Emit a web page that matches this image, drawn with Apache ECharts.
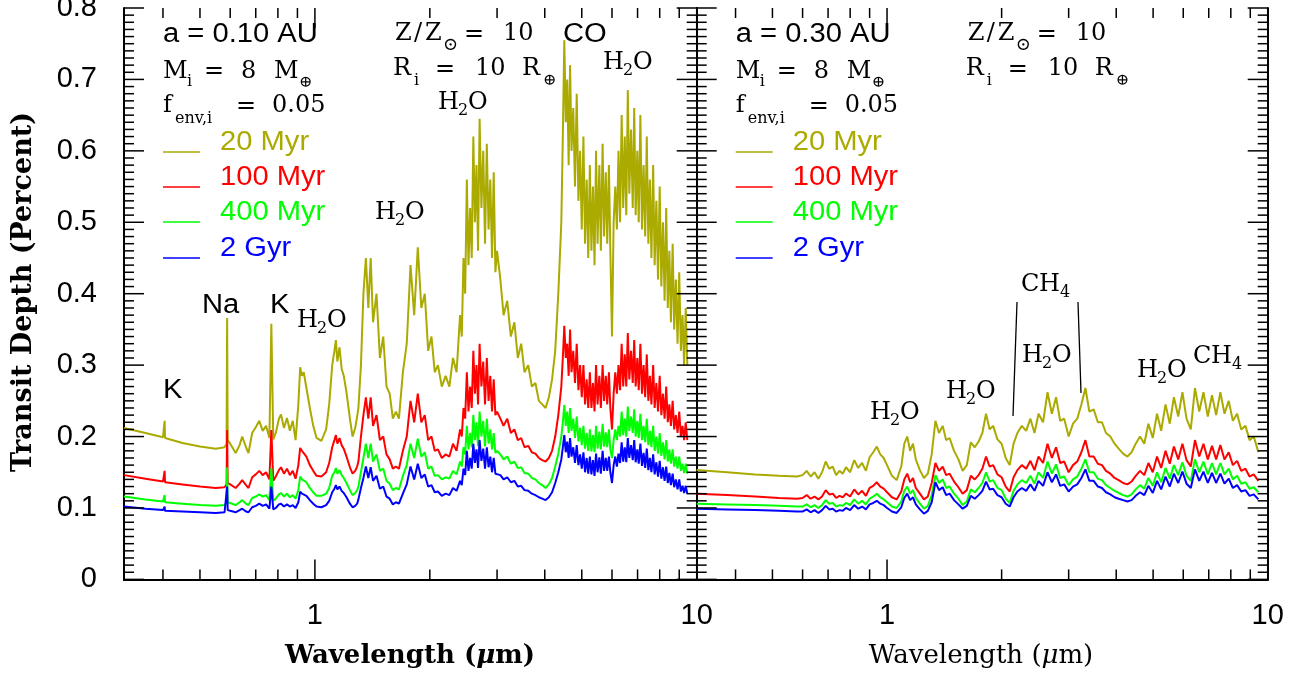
<!DOCTYPE html>
<html>
<head>
<meta charset="utf-8">
<script src="https://cdn.jsdelivr.net/npm/echarts@6.0.0/dist/echarts.min.js"></script>
<style>
html,body{margin:0;padding:0;background:#fff;}
#chart{width:1302px;height:677px;}
</style>
</head>
<body>
<div id="chart"></div>
<script>
// ================= DATA =================
// Left panel: a = 0.10 AU
const waveLeft = [
0.3162,0.36,0.40,0.403,0.404,0.405,0.45,0.50,0.55,0.58,0.587,0.589,0.591,
0.60,0.62,0.635,0.645,0.66,0.67,0.685,0.70,0.715,0.73,0.745,0.76,0.769,0.778,0.79,0.805,0.815,0.83,0.845,0.86,0.875,0.89,0.905,0.915,0.925,0.935,0.95,0.97,0.99,1.01,1.04,1.07,1.09,1.11,1.125,1.135,1.145,1.16,1.175,1.19,1.21,1.235,1.255,1.275,1.29,
1.30,1.32,1.34,1.36,1.38,1.40,1.42,1.45,1.48,1.51,
1.54,1.57,1.60,1.63,1.66,1.70,1.74,1.78,1.82,1.86,
1.90,1.94,1.98,2.02,2.06,2.10,2.15,2.20,2.25,2.30,
2.35,2.40,2.425,2.45,2.475,2.50,2.525,2.55,2.575,2.60,
2.625,2.65,2.675,2.70,2.73,2.76,2.79,2.82,2.85,2.88,
2.91,2.94,2.97,3.00,3.06,3.12,3.19,3.26,3.33,3.40,
3.47,3.54,3.62,3.70,3.78,3.86,3.94,4.02,4.10,4.18,
4.26,4.34,4.42,4.46,4.50,4.54,4.58,4.62,4.66,4.70,
4.75,4.80,4.85,4.90,4.95,5.00,5.05,5.10,5.15,5.20,
5.25,5.30,5.35,5.40,5.45,5.50,5.56,5.61,5.67,5.72,
5.78,5.83,5.89,5.94,6.00,6.06,6.12,6.18,6.24,6.30,
6.36,6.42,6.48,6.54,6.60,6.66,6.73,6.80,6.86,6.92,
6.99,7.05,7.12,7.19,7.26,7.33,7.40,7.47,7.54,7.61,
7.69,7.76,7.84,7.92,8.00,8.08,8.16,8.24,8.32,8.40,
8.48,8.56,8.65,8.73,8.82,8.91,9.00,9.09,9.18,9.27,
9.36,9.45];

const depth20MyrLeft = [
0.212,0.205,0.199,0.198,0.222,0.198,0.191,0.186,0.183,0.185,0.19,0.366,0.195,
0.19,0.177,0.188,0.2,0.185,0.177,0.205,0.213,0.222,0.208,0.215,0.198,0.358,0.196,0.205,0.225,0.231,0.212,0.226,0.208,0.222,0.195,0.245,0.297,0.285,0.29,0.268,0.24,0.215,0.198,0.194,0.21,0.245,0.3,0.32,0.335,0.305,0.325,0.295,0.285,0.262,0.225,0.2,0.212,0.228,
0.24,0.30,0.40,0.45,0.38,0.45,0.36,0.40,0.31,0.34,
0.27,0.26,0.225,0.235,0.225,0.29,0.33,0.44,0.37,0.465,
0.38,0.40,0.32,0.34,0.29,0.30,0.27,0.285,0.27,0.31,
0.29,0.37,0.34,0.45,0.40,0.56,0.44,0.52,0.45,0.62,
0.50,0.58,0.46,0.645,0.52,0.60,0.47,0.61,0.49,0.56,
0.45,0.57,0.43,0.46,0.42,0.37,0.39,0.34,0.36,0.31,
0.33,0.29,0.30,0.27,0.275,0.25,0.245,0.24,0.255,0.28,
0.32,0.40,0.50,0.62,0.755,0.64,0.70,0.58,0.72,0.60,
0.66,0.55,0.68,0.53,0.60,0.49,0.62,0.47,0.56,0.45,
0.58,0.46,0.55,0.44,0.60,0.47,0.58,0.46,0.61,0.48,
0.57,0.47,0.58,0.46,0.34,0.50,0.55,0.49,0.60,0.50,
0.65,0.52,0.62,0.51,0.685,0.54,0.63,0.52,0.66,0.51,
0.60,0.50,0.65,0.49,0.58,0.48,0.62,0.47,0.56,0.45,
0.58,0.44,0.53,0.42,0.55,0.41,0.50,0.39,0.52,0.38,
0.46,0.36,0.47,0.35,0.42,0.33,0.43,0.32,0.37,0.30,
0.38,0.30];

const depth100MyrLeft = [
0.146,0.141,0.137,0.136,0.152,0.136,0.133,0.130,0.128,0.129,0.133,0.209,0.135,
0.133,0.128,0.134,0.139,0.132,0.128,0.143,0.147,0.152,0.146,0.150,0.140,0.209,0.138,0.144,0.153,0.157,0.148,0.155,0.146,0.152,0.141,0.16,0.184,0.18,0.178,0.172,0.16,0.152,0.145,0.144,0.15,0.163,0.185,0.195,0.202,0.19,0.198,0.188,0.183,0.172,0.157,0.148,0.152,0.158,
0.165,0.20,0.23,0.255,0.225,0.255,0.215,0.23,0.195,0.20,
0.175,0.168,0.155,0.158,0.155,0.18,0.20,0.25,0.22,0.26,
0.22,0.23,0.195,0.20,0.18,0.182,0.17,0.175,0.172,0.19,
0.18,0.21,0.20,0.24,0.225,0.29,0.235,0.27,0.24,0.32,
0.26,0.30,0.245,0.33,0.27,0.305,0.245,0.31,0.25,0.285,
0.235,0.28,0.23,0.235,0.225,0.215,0.225,0.205,0.21,0.195,
0.198,0.185,0.187,0.178,0.176,0.17,0.167,0.165,0.17,0.18,
0.20,0.23,0.27,0.31,0.355,0.31,0.33,0.285,0.35,0.29,
0.32,0.275,0.33,0.265,0.30,0.255,0.30,0.245,0.28,0.24,
0.29,0.24,0.275,0.235,0.30,0.245,0.285,0.24,0.30,0.25,
0.285,0.245,0.29,0.24,0.21,0.26,0.29,0.26,0.30,0.265,
0.33,0.27,0.315,0.27,0.345,0.28,0.32,0.275,0.335,0.27,
0.31,0.265,0.33,0.26,0.30,0.255,0.315,0.25,0.285,0.245,
0.30,0.24,0.275,0.235,0.285,0.23,0.26,0.225,0.27,0.22,
0.245,0.215,0.25,0.21,0.23,0.205,0.235,0.2,0.215,0.195,
0.22,0.195];

const depth400MyrLeft = [
0.116,0.112,0.109,0.108,0.118,0.108,0.106,0.104,0.103,0.104,0.107,0.157,0.108,
0.107,0.104,0.108,0.111,0.106,0.104,0.114,0.116,0.119,0.116,0.118,0.111,0.156,0.110,0.113,0.119,0.121,0.116,0.12,0.115,0.118,0.113,0.125,0.144,0.14,0.141,0.136,0.128,0.122,0.117,0.117,0.12,0.128,0.145,0.15,0.156,0.148,0.153,0.146,0.142,0.135,0.125,0.118,0.121,0.125,
0.13,0.15,0.17,0.19,0.17,0.19,0.165,0.175,0.152,0.155,
0.138,0.134,0.125,0.128,0.126,0.145,0.16,0.19,0.17,0.197,
0.172,0.178,0.155,0.158,0.145,0.146,0.14,0.143,0.141,0.152,
0.147,0.165,0.158,0.185,0.175,0.215,0.182,0.205,0.185,0.23,
0.195,0.22,0.187,0.235,0.2,0.222,0.186,0.225,0.19,0.21,
0.182,0.205,0.177,0.18,0.175,0.168,0.172,0.162,0.165,0.156,
0.157,0.149,0.148,0.142,0.14,0.135,0.132,0.128,0.133,0.142,
0.158,0.176,0.2,0.22,0.244,0.215,0.235,0.205,0.24,0.208,
0.225,0.198,0.228,0.193,0.212,0.188,0.215,0.183,0.205,0.18,
0.21,0.179,0.202,0.178,0.215,0.183,0.207,0.182,0.218,0.186,
0.206,0.185,0.21,0.182,0.17,0.195,0.21,0.195,0.215,0.2,
0.235,0.202,0.225,0.2,0.242,0.208,0.228,0.205,0.238,0.2,
0.222,0.198,0.232,0.195,0.215,0.192,0.225,0.188,0.208,0.185,
0.215,0.18,0.2,0.176,0.205,0.173,0.192,0.168,0.195,0.165,
0.182,0.162,0.182,0.158,0.172,0.155,0.172,0.152,0.162,0.149,
0.162,0.148];

const depth2GyrLeft = [
0.102,0.099,0.097,0.096,0.102,0.096,0.095,0.094,0.093,0.094,0.096,0.130,0.097,
0.096,0.094,0.097,0.099,0.095,0.094,0.101,0.103,0.106,0.103,0.105,0.099,0.130,0.098,0.1,0.105,0.106,0.102,0.105,0.102,0.104,0.1,0.108,0.123,0.12,0.121,0.117,0.111,0.106,0.102,0.101,0.104,0.11,0.122,0.127,0.132,0.126,0.13,0.124,0.121,0.115,0.106,0.101,0.103,0.106,
0.112,0.128,0.142,0.158,0.142,0.157,0.138,0.145,0.127,0.13,
0.116,0.113,0.105,0.108,0.106,0.12,0.133,0.158,0.14,0.162,
0.142,0.147,0.13,0.132,0.122,0.123,0.117,0.12,0.118,0.128,
0.124,0.138,0.132,0.155,0.146,0.18,0.152,0.17,0.155,0.19,
0.163,0.182,0.156,0.195,0.166,0.183,0.155,0.185,0.157,0.172,
0.15,0.17,0.148,0.15,0.146,0.14,0.143,0.136,0.138,0.13,
0.131,0.125,0.124,0.12,0.118,0.115,0.113,0.111,0.115,0.122,
0.135,0.15,0.168,0.185,0.202,0.178,0.193,0.17,0.198,0.172,
0.185,0.163,0.188,0.16,0.175,0.155,0.178,0.15,0.17,0.148,
0.172,0.147,0.167,0.145,0.176,0.15,0.171,0.148,0.18,0.152,
0.17,0.152,0.172,0.15,0.135,0.16,0.172,0.158,0.176,0.163,
0.192,0.165,0.185,0.164,0.198,0.17,0.188,0.167,0.195,0.164,
0.182,0.162,0.19,0.159,0.177,0.156,0.183,0.153,0.17,0.15,
0.175,0.147,0.164,0.144,0.166,0.141,0.157,0.138,0.158,0.135,
0.149,0.132,0.148,0.129,0.14,0.126,0.14,0.123,0.131,0.121,
0.131,0.12];

// Right panel: a = 0.30 AU
const waveRight = [
0.3162,0.38,0.45,0.52,0.58,
0.60,0.615,0.63,0.645,0.66,0.675,0.69,0.705,0.72,0.735,0.75,0.765,0.78,0.80,0.82,0.84,0.86,0.88,0.90,0.92,0.94,0.96,0.98,1.00,1.03,1.06,1.09,1.11,1.13,1.15,1.17,1.19,1.22,1.25,1.28,
1.31,1.34,1.37,1.40,1.43,1.46,1.50,1.54,1.58,1.62,
1.66,1.70,1.74,1.78,1.82,1.86,1.90,1.95,2.00,2.05,
2.10,2.15,2.20,2.26,2.32,2.38,2.44,2.50,2.57,2.64,
2.71,2.78,2.85,2.92,3.00,3.08,3.16,3.24,3.32,3.40,
3.49,3.58,3.67,3.76,3.86,3.96,4.06,4.17,4.28,4.39,
4.50,4.62,4.74,4.86,4.99,5.12,5.25,5.39,5.53,5.67,
5.82,5.97,6.12,6.28,6.44,6.61,6.78,6.96,7.14,7.32,
7.51,7.70,7.90,8.10,8.31,8.52,8.74,8.96,9.19,9.45];

const depth20MyrRight = [
0.153,0.150,0.147,0.145,0.144,
0.146,0.152,0.144,0.150,0.141,0.150,0.165,0.155,0.158,0.146,0.152,0.148,0.157,0.150,0.167,0.156,0.163,0.152,0.171,0.178,0.186,0.175,0.170,0.160,0.145,0.139,0.158,0.19,0.20,0.18,0.19,0.168,0.153,0.142,0.148,
0.175,0.222,0.205,0.215,0.195,0.198,0.18,0.168,0.152,0.16,
0.192,0.185,0.193,0.205,0.232,0.21,0.215,0.196,0.19,0.17,
0.16,0.19,0.205,0.215,0.208,0.225,0.205,0.232,0.22,0.262,
0.232,0.255,0.222,0.225,0.2,0.218,0.225,0.245,0.268,0.235,
0.238,0.22,0.22,0.205,0.2,0.19,0.183,0.176,0.172,0.178,
0.19,0.2,0.19,0.218,0.198,0.232,0.208,0.245,0.218,0.255,
0.228,0.262,0.225,0.21,0.268,0.235,0.262,0.228,0.258,0.23,
0.262,0.232,0.25,0.222,0.232,0.21,0.215,0.195,0.2,0.178];

const depth100MyrRight = [
0.12,0.118,0.116,0.114,0.113,
0.114,0.118,0.113,0.116,0.112,0.116,0.125,0.119,0.12,0.114,0.117,0.115,0.12,0.116,0.126,0.119,0.124,0.117,0.128,0.131,0.136,0.13,0.127,0.122,0.115,0.112,0.123,0.14,0.148,0.136,0.142,0.128,0.12,0.112,0.116,
0.135,0.163,0.152,0.158,0.146,0.148,0.137,0.129,0.12,0.125,
0.145,0.14,0.146,0.155,0.172,0.158,0.16,0.147,0.143,0.13,
0.123,0.143,0.153,0.16,0.155,0.166,0.153,0.172,0.163,0.19,
0.17,0.185,0.163,0.165,0.15,0.16,0.165,0.178,0.195,0.172,
0.172,0.162,0.16,0.152,0.148,0.142,0.139,0.135,0.133,0.137,
0.145,0.152,0.146,0.163,0.15,0.172,0.156,0.18,0.162,0.186,
0.168,0.19,0.167,0.158,0.195,0.172,0.19,0.168,0.187,0.168,
0.188,0.168,0.178,0.16,0.166,0.152,0.155,0.144,0.147,0.138];

const depth400MyrRight = [
0.106,0.105,0.104,0.103,0.102,
0.102,0.105,0.101,0.104,0.1,0.104,0.111,0.106,0.107,0.102,0.104,0.103,0.107,0.104,0.112,0.106,0.11,0.105,0.113,0.116,0.12,0.115,0.112,0.108,0.102,0.1,0.109,0.124,0.13,0.12,0.125,0.114,0.106,0.099,0.103,
0.118,0.146,0.135,0.14,0.128,0.13,0.12,0.113,0.104,0.109,
0.126,0.122,0.128,0.135,0.15,0.137,0.139,0.128,0.125,0.113,
0.107,0.124,0.133,0.139,0.135,0.145,0.134,0.15,0.142,0.165,
0.148,0.161,0.142,0.144,0.132,0.14,0.144,0.155,0.168,0.15,
0.15,0.141,0.139,0.132,0.128,0.124,0.121,0.118,0.116,0.119,
0.126,0.132,0.127,0.142,0.131,0.15,0.136,0.156,0.141,0.16,
0.146,0.164,0.145,0.138,0.168,0.15,0.165,0.147,0.163,0.147,
0.163,0.147,0.155,0.14,0.145,0.134,0.136,0.127,0.129,0.122];

const depth2GyrRight = [
0.099,0.098,0.097,0.096,0.095,
0.095,0.098,0.094,0.097,0.093,0.097,0.103,0.098,0.099,0.095,0.097,0.096,0.1,0.097,0.104,0.099,0.102,0.098,0.105,0.107,0.11,0.106,0.104,0.1,0.095,0.093,0.101,0.114,0.12,0.111,0.115,0.105,0.098,0.092,0.096,
0.108,0.136,0.125,0.129,0.118,0.12,0.111,0.105,0.099,0.103,
0.117,0.113,0.118,0.124,0.137,0.126,0.127,0.118,0.115,0.106,
0.102,0.115,0.123,0.128,0.124,0.133,0.124,0.138,0.131,0.15,
0.136,0.147,0.131,0.133,0.123,0.13,0.133,0.142,0.154,0.138,
0.138,0.13,0.128,0.122,0.119,0.115,0.113,0.111,0.109,0.111,
0.117,0.122,0.118,0.131,0.121,0.138,0.126,0.144,0.13,0.148,
0.135,0.151,0.134,0.128,0.154,0.138,0.151,0.135,0.149,0.135,
0.148,0.134,0.141,0.128,0.132,0.123,0.125,0.117,0.119,0.112];

const seriesNames = ['20 Myr', '100 Myr', '400 Myr', '2 Gyr'];
const seriesColors = ['#AAAA00', '#FF0000', '#00FF00', '#0000FF'];
const xMajorTicks = [1, 10];
const xMinorTicks = [0.4, 0.5, 0.6, 0.7, 0.8, 0.9, 2, 3, 4, 5, 6, 7, 8, 9];
const xTickLabels = [1, 10];
const yMax = 0.8, yMajorStep = 0.1, yMinorPerMajor = 10;
const xTitle = 'Wavelength';
const yTitle = 'Transit Depth (Percent)';
const leftParams = 'a = 0.10 AU';
const rightParams = 'a = 0.30 AU';

// ================= CHART =================
const SANS = '"Liberation Sans", Arial, Helvetica, sans-serif';
const SERIF = '"DejaVu Serif", "Liberation Serif", serif';
const X_MIN = 0.31623, X_MAX = 10;

const chart = echarts.init(document.getElementById('chart'), null, { renderer: 'canvas' });

const grids = [
  { left: 124, right: 605.3, top: 8, bottom: 97.6, outerBoundsMode: 'none', containLabel: false },
  { left: 696.7, right: 34.3, top: 8, bottom: 97.6, outerBoundsMode: 'none', containLabel: false }
];

function xAxesFor(g) {
  const base = { gridIndex: g, type: 'log', logBase: 10, min: X_MIN, max: X_MAX,
    splitLine: { show: false }, minorTick: { show: false }, minorSplitLine: { show: false },
    axisTick: { show: false } };
  return [
    Object.assign({}, base, { position: 'bottom',
      axisLine: { show: true, lineStyle: { color: '#000', width: 2 } },
      axisLabel: { show: true, customValues: xTickLabels, margin: 22, color: '#000',
        fontFamily: SANS, fontSize: 29, formatter: v => String(Math.round(v * 1000) / 1000) } }),
    Object.assign({}, base, { position: 'top',
      axisLine: { show: true, lineStyle: { color: '#000', width: 2 } },
      axisLabel: { show: false } })
  ];
}
function yAxisFor(g, pos, showLabel) {
  return { gridIndex: g, type: 'value', position: pos, min: 0, max: yMax, interval: yMajorStep,
    axisLine: { show: true, onZero: false, lineStyle: { color: '#000', width: 2 } },
    axisTick: { show: false }, minorTick: { show: false },
    splitLine: { show: false }, minorSplitLine: { show: false },
    axisLabel: { show: showLabel, margin: 27, color: '#000', fontFamily: SANS, fontSize: 29,
      formatter: v => (v === 0 ? '0' : v.toFixed(1)) } };
}

// tick marks (inward, on all four sides) drawn through the axes' own scales
const tickItems = [];
xMajorTicks.forEach(v => tickItems.push([v, 0.4, 1]));
xMinorTicks.forEach(v => tickItems.push([v, 0.4, 0]));
for (let k = 0; k <= Math.round(yMax / yMajorStep) * yMinorPerMajor; k++) {
  tickItems.push([1, k * yMajorStep / yMinorPerMajor, k % yMinorPerMajor === 0 ? 3 : 2]);
}
function tickSeries(xi, yi) {
  return {
    type: 'custom', xAxisIndex: xi, yAxisIndex: yi, silent: true, z: 20, clip: false,
    encode: { x: 0, y: 1 }, data: tickItems,
    renderItem: (params, api) => {
      const kind = api.value(2);
      const st = { stroke: '#000', lineWidth: 1.5 };
      if (kind < 2) {
        const len = kind === 1 ? 20 : 10;
        const b = api.coord([api.value(0), 0]);
        const t = api.coord([api.value(0), yMax]);
        return { type: 'group', children: [
          { type: 'line', shape: { x1: b[0], y1: b[1], x2: b[0], y2: b[1] - len }, style: st },
          { type: 'line', shape: { x1: t[0], y1: t[1], x2: t[0], y2: t[1] + len }, style: st } ] };
      }
      const len = kind === 3 ? 20 : 10;
      const l = api.coord([X_MIN, api.value(1)]);
      const r = api.coord([X_MAX, api.value(1)]);
      return { type: 'group', children: [
        { type: 'line', shape: { x1: l[0], y1: l[1], x2: l[0] + len, y2: l[1] }, style: st },
        { type: 'line', shape: { x1: r[0], y1: r[1], x2: r[0] - len, y2: r[1] }, style: st } ] };
    }
  };
}

function pairs(w, v) { return w.map((x, i) => [x, v[i]]); }
const leftSets = [depth20MyrLeft, depth100MyrLeft, depth400MyrLeft, depth2GyrLeft];
const rightSets = [depth20MyrRight, depth100MyrRight, depth400MyrRight, depth2GyrRight];
const series = [];
leftSets.forEach((vals, i) => series.push({
  name: seriesNames[i] + ' (0.10 AU)', type: 'line', xAxisIndex: 0, yAxisIndex: 0,
  data: pairs(waveLeft, vals), showSymbol: false, symbol: 'none', silent: true, clip: true,
  lineStyle: { color: seriesColors[i], width: 2 }, z: 2 + i
}));
rightSets.forEach((vals, i) => series.push({
  name: seriesNames[i] + ' (0.30 AU)', type: 'line', xAxisIndex: 2, yAxisIndex: 2,
  data: pairs(waveRight, vals), showSymbol: false, symbol: 'none', silent: true, clip: true,
  lineStyle: { color: seriesColors[i], width: 2 }, z: 2 + i
}));
series.push(tickSeries(0, 0));
series.push(tickSeries(2, 2));

// ---------- annotation text ----------
const els = [];
function label(x, y, text, size, o) {
  o = o || {};
  els.push({ type: 'text', x: x, y: y, scaleX: o.sx || 1, rotation: o.rot || 0, silent: true, z: 50,
    style: { text: text, fontFamily: o.family || SERIF, fontSize: size,
      fontWeight: o.bold ? 'bold' : 'normal', fontStyle: o.italic ? 'italic' : 'normal',
      fill: o.color || '#000', rich: o.rich,
      textAlign: o.align || 'left', align: o.align || 'left',
      textVerticalAlign: 'middle', verticalAlign: 'middle' } });
}
function sans(x, y, t, color) { label(x, y, t, 27, { family: SANS, sx: 1.08, color: color }); }
function parts(dx, list) { list.forEach(p => label(p[1] + dx, p[2], p[0], p[3])); }
function h2o(x, y) { parts(0, [['H', x, y, 24], ['2', x + 20, y + 8, 16], ['O', x + 30, y, 24]]); }
function ch4(x, y) { parts(0, [['C', x, y, 24], ['H', x + 18, y, 24], ['4', x + 39, y + 8, 16]]); }

const PANEL_DX = 572.7;
const legendLineY = [152, 187, 222, 258];
const legendTextY = [143, 178, 213, 249];
[0, PANEL_DX].forEach((dx, k) => {
  sans(163 + dx, 35, k === 0 ? leftParams : rightParams);
  parts(dx, [['M', 163, 72, 24], ['i', 187, 82, 16], ['=', 204, 72, 24], ['8', 241, 72, 24], ['M', 274, 72, 24], ['\u2295', 299, 83, 16]]);
  parts(dx, [['f', 163, 106, 24], ['env,i', 175, 119, 16], ['=', 236, 107, 24], ['0.05', 272, 106, 24]]);
  parts(dx, [['Z', 395, 34, 24], ['/', 414, 34, 24], ['Z', 425, 34, 24], ['\u2299', 443, 45, 18], ['=', 464, 35, 24], ['10', 503, 34, 24]]);
  parts(dx, [['R', 393, 69, 24], ['i', 414, 81, 16], ['=', 435, 70, 24], ['10', 475, 69, 24], ['R', 522, 69, 24], ['\u2295', 543, 81, 16]]);
  seriesNames.forEach((n, i) => {
    els.push({ type: 'line', silent: true, z: 50,
      shape: { x1: 163 + dx, y1: legendLineY[i], x2: 200 + dx, y2: legendLineY[i] },
      style: { stroke: seriesColors[i], lineWidth: 1.5 } });
    sans(220 + dx, legendTextY[i], n, seriesColors[i]);
  });
});
// left panel species labels
sans(563, 35, 'CO');
sans(202, 306, 'Na');
sans(270, 306, 'K');
sans(163, 391, 'K');
h2o(438, 103); h2o(603, 63); h2o(375, 213); h2o(297, 321);
// right panel species labels
h2o(870, 413); h2o(946, 392); h2o(1022, 356); h2o(1137, 371);
ch4(1021, 285); ch4(1193, 357);
els.push({ type: 'line', silent: true, z: 50, shape: { x1: 1017, y1: 302, x2: 1013, y2: 416 }, style: { stroke: '#000', lineWidth: 1.3 } });
els.push({ type: 'line', silent: true, z: 50, shape: { x1: 1078, y1: 302, x2: 1081, y2: 393 }, style: { stroke: '#000', lineWidth: 1.3 } });

// axis titles
const titleRich = (bold) => ({
  t: { fontFamily: SERIF, fontSize: 26, fontWeight: bold ? 'bold' : 'normal' },
  m: { fontFamily: SERIF, fontSize: 26, fontWeight: bold ? 'bold' : 'normal', fontStyle: 'italic' }
});
label(410, 656, '{t|' + xTitle + ' (}{m|\u03bc}{t|m)}', 26, { align: 'center', rich: titleRich(true), bold: true });
label(981, 656, '{t|' + xTitle + ' (}{m|\u03bc}{t|m)}', 26, { align: 'center', rich: titleRich(false) });
label(24, 292, yTitle, 27, { align: 'center', bold: true, rot: Math.PI / 2 });

chart.setOption({
  animation: false,
  backgroundColor: '#fff',
  grid: grids,
  xAxis: xAxesFor(0).concat(xAxesFor(1)),
  yAxis: [yAxisFor(0, 'left', true), yAxisFor(0, 'right', false), yAxisFor(1, 'left', false), yAxisFor(1, 'right', false)],
  series: series,
  graphic: { elements: els }
});
</script>
</body>
</html>
